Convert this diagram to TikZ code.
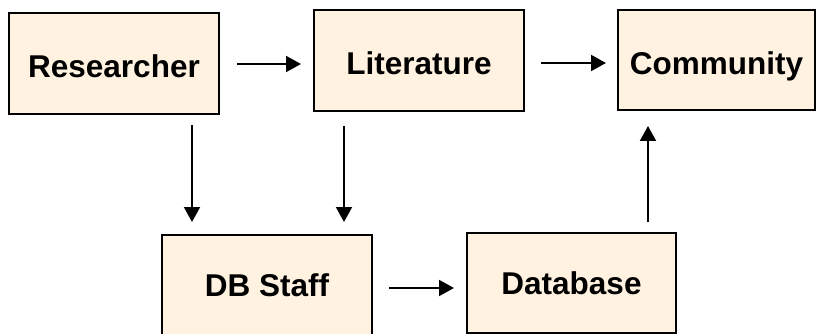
\documentclass[tikz,border=0pt]{standalone}
\usepackage{fontspec}
\setmainfont{Liberation Sans}
\usetikzlibrary{arrows.meta}
\definecolor{boxfill}{RGB}{255,242,224}
\begin{document}
\begin{tikzpicture}[x=1pt,y=-1pt,
  box/.style={draw=black, line width=2pt, fill=boxfill, inner sep=0pt,
    text height=22.5pt, text depth=0pt,
    font=\fontsize{31.5}{36}\selectfont\bfseries},
  arr/.style={line width=2pt, -{Triangle[length=15pt,width=16pt]}}]
\useasboundingbox (0,0) rectangle (817,334);
\node[box, minimum width=210pt, minimum height=101pt] (R) at (114,63.5) {\raisebox{-2.5pt}{Researcher}};
\node[box, minimum width=210pt, minimum height=101pt] (L) at (419,60.5) {\raisebox{-2.5pt}{Literature}};
\node[box, minimum width=197pt, minimum height=100pt] (C) at (716.5,60) {\raisebox{-3pt}{Community}};
\node[box, minimum width=210pt, minimum height=101pt] (D) at (267,285.5) {DB Staff};
\node[box, minimum width=209pt, minimum height=100pt] (B) at (571.5,283) {Database};
% horizontal arrows
\coordinate (h1) at ([yshift=-0.5pt]R.east);
\draw[arr, shorten <=17pt, shorten >=12pt] (h1) -- (h1 -| L.west);
\coordinate (h2) at ([yshift=-2.5pt]L.east);
\draw[arr, shorten <=16pt, shorten >=11pt] (h2) -- (h2 -| C.west);
\coordinate (h3) at ([yshift=-2.5pt]D.east);
\draw[arr, shorten <=16pt, shorten >=12pt] (h3) -- (h3 -| B.west);
% vertical arrows
\coordinate (v1) at ([xshift=78pt]R.south);
\draw[arr, shorten <=10pt, shorten >=12pt] (v1) -- (v1 |- D.north);
\coordinate (v2) at ([xshift=-75pt]L.south);
\draw[arr, shorten <=14pt, shorten >=12pt] (v2) -- (v2 |- D.north);
\coordinate (v3) at ([xshift=76.5pt]B.north);
\draw[arr, shorten <=10pt, shorten >=15pt] (v3) -- (v3 |- C.south);
\end{tikzpicture}
\end{document}
